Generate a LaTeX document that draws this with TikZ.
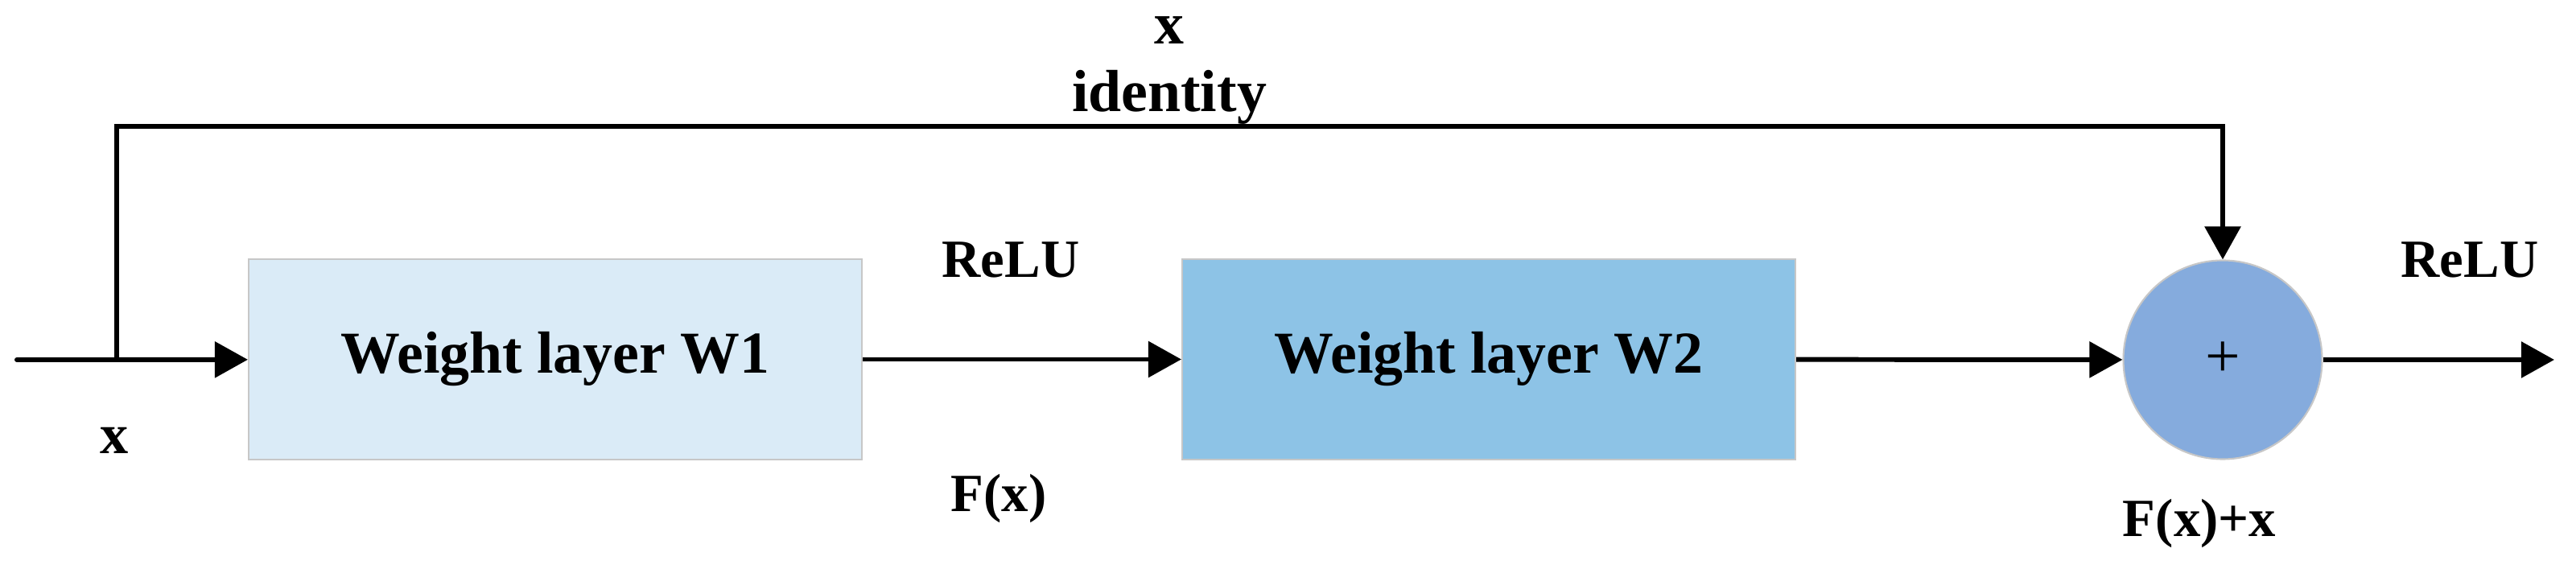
\documentclass[tikz,border=0pt]{standalone}
\usepackage{fontspec}
\setmainfont{Liberation Serif}
\usetikzlibrary{arrows.meta,positioning}
\definecolor{layerone}{RGB}{218,235,247}
\definecolor{layertwo}{RGB}{141,195,230}
\definecolor{sumfill}{RGB}{133,171,221}
\begin{document}
\begin{tikzpicture}[
        layer/.style={draw=black!22,line width=0.6pt,minimum width=7.62cm,
            minimum height=2.49cm,font=\fontsize{21}{25}\selectfont\bfseries},
        lbl/.style={font=\fontsize{19}{23}\selectfont\bfseries,inner sep=0pt,anchor=base},
        flow/.style={line width=1.7pt,-{Triangle[length=4.1mm,width=4.4mm]}}
    ]
    \useasboundingbox (0,0) rectangle (32.01,7.02);
    \coordinate (in) at (0.21,2.55);
    \coordinate (split) at (1.45,2.55);
    \node[layer,fill=layerone] (w1) at (6.90,2.555) {Weight layer W1};
    \node[layer,fill=layertwo] (w2) at (18.50,2.555) {Weight layer W2};
    \node[circle,draw=black!22,line width=0.6pt,fill=sumfill,minimum size=2.47cm,
        inner sep=0pt,font=\fontsize{22}{26}\selectfont] (sum) at (27.62,2.55) {+};
    \coordinate (corner) at (27.62,5.45);
    \coordinate (out) at (31.74,2.55);
    % main path
    \draw[line width=1.7pt,line cap=round] (in) -- (split);
    \draw[flow] (split) -- (w1);
    \draw[flow] (w1) -- (w2);
    \draw[flow] (w2) -- (sum);
    \draw[flow] (sum) -- (out);
    % shortcut
    \draw[flow] (split) |- (corner) -- (sum);
    % labels
    \node[lbl,font=\fontsize{20}{24}\selectfont\bfseries] (xin) at (1.42,1.38) {x};
    \node[lbl,font=\fontsize{21}{25}\selectfont\bfseries] (xtop) at (14.53,6.47) {x};
    \node[lbl,font=\fontsize{21}{25}\selectfont\bfseries] (ident) at (14.53,5.63) {identity};
    \node[lbl] (relu1) at (12.56,3.57) {ReLU};
    \node[lbl] (fx) at (12.41,0.66) {F(x)};
    \node[lbl] (relu2) at (30.69,3.57) {ReLU};
    \node[lbl] (fxx) at (27.33,0.35) {F(x)+x};
\end{tikzpicture}
\end{document}
